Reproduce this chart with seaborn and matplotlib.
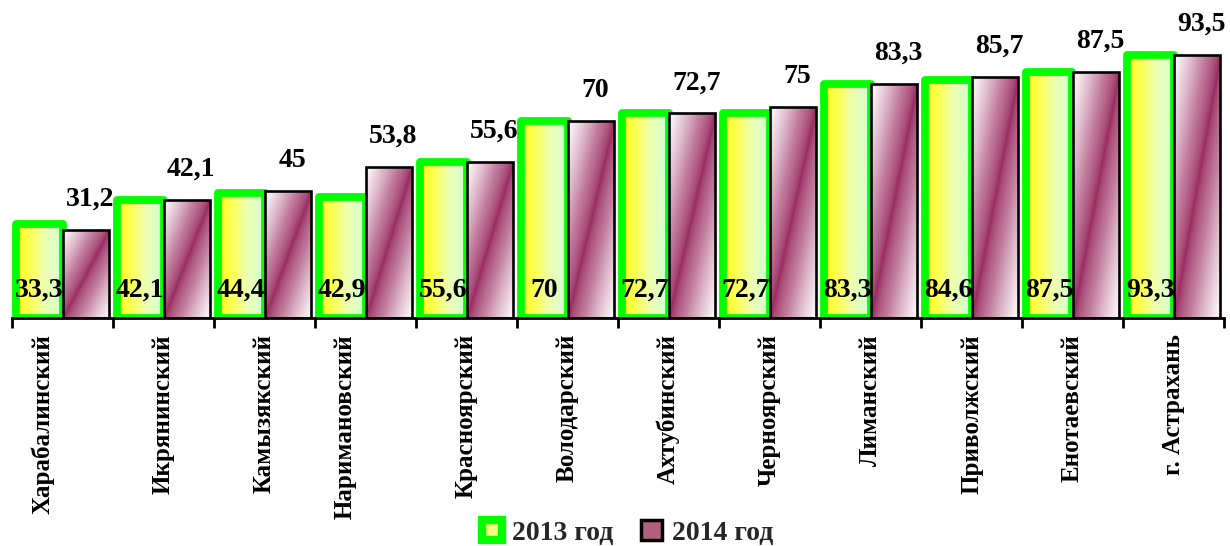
import numpy as np
import pandas as pd
import matplotlib
matplotlib.use("Agg")
import matplotlib.pyplot as plt
import seaborn as sns
from matplotlib.colors import LinearSegmentedColormap
from matplotlib.patches import Rectangle
import matplotlib.transforms as mtransforms

districts = ["Харабалинский", "Икрянинский", "Камызякский", "Наримановский",
             "Красноярский", "Володарский", "Ахтубинский", "Черноярский",
             "Лиманский", "Приволжский", "Енотаевский", "г. Астрахань"]
values_2013 = [33.3, 42.1, 44.4, 42.9, 55.6, 70, 72.7, 72.7, 83.3, 84.6, 87.5, 93.3]
values_2014 = [31.2, 42.1, 45, 53.8, 55.6, 70, 72.7, 75, 83.3, 85.7, 87.5, 93.5]
years = ["2013 год", "2014 год"]

df = pd.DataFrame({
    "district": districts * 2,
    "value": values_2013 + values_2014,
    "year": [years[0]] * len(districts) + [years[1]] * len(districts),
})

sns.set_theme(style="white")
plt.rcParams["font.family"] = ["Liberation Serif", "DejaVu Serif"]
plt.rcParams["font.weight"] = "bold"

W, H, DPI = 1230, 546, 100
fig = plt.figure(figsize=(W / DPI, H / DPI), dpi=DPI)
ax = fig.add_axes([12 / W, 1 - 318 / H, 1212 / W, 318 / H])

sns.barplot(data=df, x="district", y="value", hue="year", hue_order=years,
            order=districts, palette=["#FFFF40", "#993366"], width=0.93,
            saturation=1, errorbar=None, legend=False, ax=ax)

ax.set_xlim(-0.5, len(districts) - 0.5)
ax.set_ylim(0, 113)

cmap13 = LinearSegmentedColormap.from_list(
    "c13", [(0, "#FFFF1A"), (0.35, "#FAFF60"), (0.6, "#EEFFB0"), (1, "#D3FFD6")])
cmap14 = LinearSegmentedColormap.from_list("c14", ["#97285E", "#C27E9E", "#FFFFFF"])

uu = np.linspace(0, 1, 80)
grad13 = cmap13(np.tile(uu, (2, 1)))

c13, c14 = ax.containers[0], ax.containers[1]
for bar in c13:
    x0, y0 = bar.get_x(), bar.get_y()
    w, h = bar.get_width(), bar.get_height()
    im = ax.imshow(grad13, extent=[x0, x0 + w, y0, y0 + h], origin="lower",
                   aspect="auto", interpolation="bilinear", zorder=1.5)
    im.set_clip_path(bar)
    bar.set_facecolor("none")
    bar.set_edgecolor("#00FF00")
    bar.set_linewidth(5.6)
    bar.set_joinstyle("round")
    bar.set_zorder(2)

U, V = np.meshgrid(np.linspace(0, 1, 60), np.linspace(0, 1, 200))
tt = np.clip(np.abs(U - V), 0, 1) ** 0.65
grad14 = cmap14(tt)
for bar in c14:
    x0, y0 = bar.get_x(), bar.get_y()
    w, h = bar.get_width(), bar.get_height()
    im = ax.imshow(grad14, extent=[x0, x0 + w, y0, y0 + h], origin="lower",
                   aspect="auto", interpolation="bilinear", zorder=3.5)
    im.set_clip_path(bar)
    bar.set_facecolor("none")
    bar.set_edgecolor("black")
    bar.set_linewidth(1.9)
    bar.set_zorder(4)

ax.set_xlim(-0.5, len(districts) - 0.5)
ax.set_ylim(0, 113)


def fmt(v):
    return f"{v:g}".replace(".", ",")


lab_font = dict(family="Liberation Serif", weight="bold", size=20, color="black")
for bar, v in zip(c13, values_2013):
    ax.annotate(fmt(v), (bar.get_x() + bar.get_width() / 2, 0),
                xytext=(0, 20), textcoords="offset points",
                ha="center", va="center", zorder=6, **lab_font)
for bar, v in zip(c14, values_2014):
    ax.annotate(fmt(v), (bar.get_x() + bar.get_width() / 2, bar.get_height()),
                xytext=(3, 22), textcoords="offset points",
                ha="center", va="center", zorder=6, **lab_font)

# axes styling
for s in ["left", "top", "right"]:
    ax.spines[s].set_visible(False)
ax.spines["bottom"].set_color("black")
ax.spines["bottom"].set_linewidth(2)
ax.spines["bottom"].set_zorder(7)
ax.set_yticks([])
ax.set_xlabel("")
ax.set_ylabel("")
ax.set_xticks(np.arange(-0.5, len(districts), 1), minor=True)
ax.tick_params(axis="x", which="minor", bottom=True, length=7, width=2,
               color="black", direction="out")
ax.tick_params(axis="x", which="major", length=0, labelbottom=False)

for i, name in enumerate(districts):
    dx = -20 / DPI if len(name) > 12 else 0
    tr = ax.get_xaxis_transform() + mtransforms.ScaledTranslation(
        dx, -16 / DPI, fig.dpi_scale_trans)
    ax.text(i, 0, name, transform=tr, rotation=90, ha="center", va="top",
            family="Liberation Serif", weight="bold", size=18, color="black")

handles = [
    Rectangle((0, 0), 1, 1, facecolor="#F4FF80", edgecolor="#00FF00", linewidth=6),
    Rectangle((0, 0), 1, 1, facecolor="#B0607F", edgecolor="black", linewidth=2.5),
]
fig.legend(handles, years, loc="center", bbox_to_anchor=(0.51, 0.024), ncol=2,
           frameon=False, prop=dict(family="Liberation Serif", weight="bold", size=20),
           handlelength=0.75, handleheight=0.75, columnspacing=1.0, handletextpad=0.35,
           borderpad=0.1)

fig.savefig("out.png", dpi=DPI)
